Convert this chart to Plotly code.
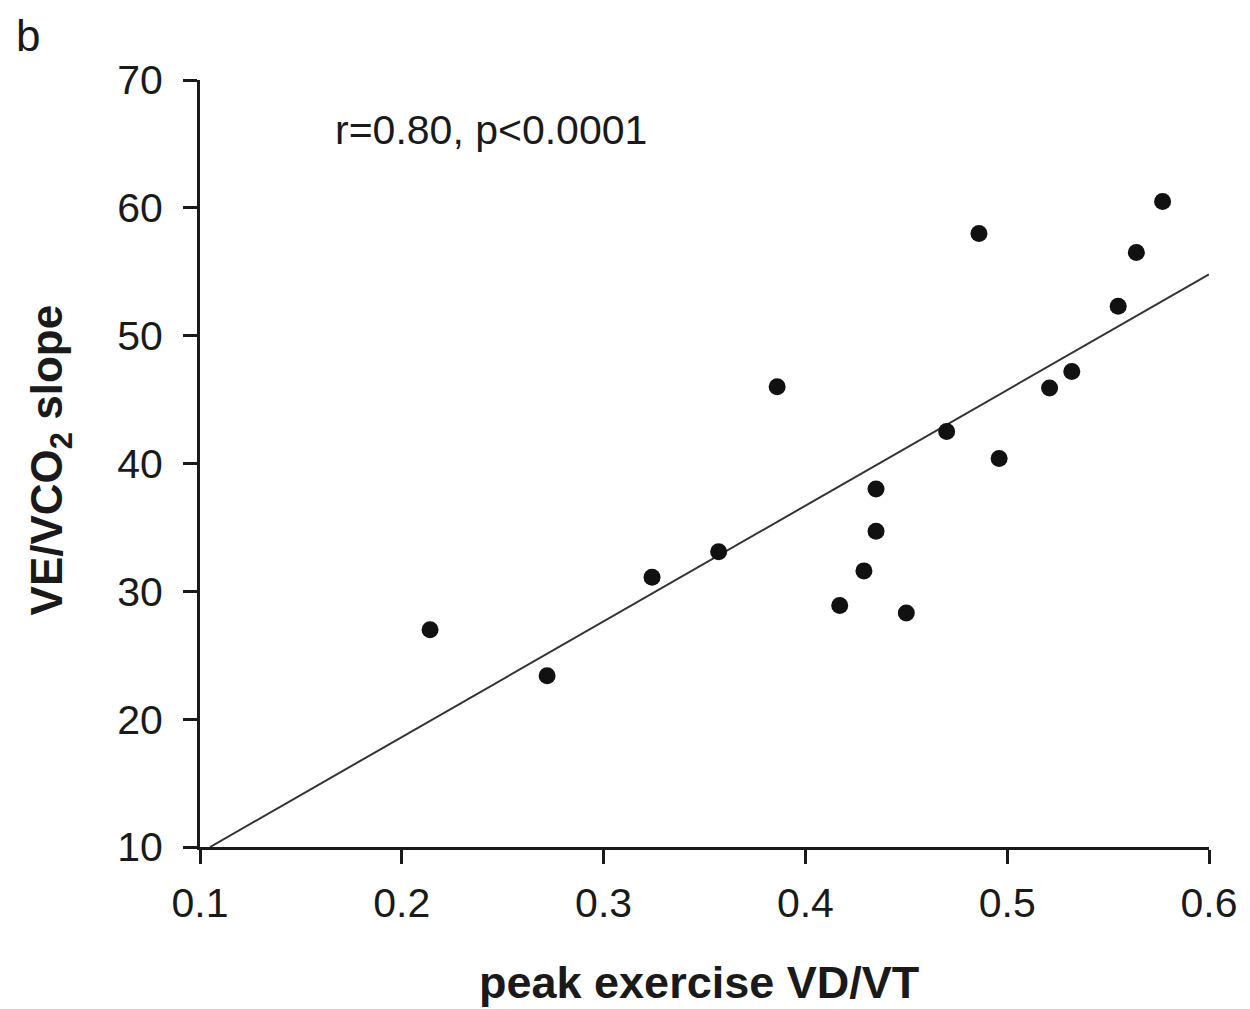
import plotly.graph_objects as go

# Data
vd_vt = [0.214, 0.272, 0.324, 0.357, 0.386, 0.417, 0.429, 0.435, 0.435, 0.450,
         0.470, 0.486, 0.496, 0.521, 0.532, 0.555, 0.564, 0.577]
ve_vco2 = [27.0, 23.4, 31.1, 33.1, 46.0, 28.9, 31.6, 34.7, 38.0, 28.3,
           42.5, 58.0, 40.4, 45.9, 47.2, 52.3, 56.5, 60.5]
fit_x = [0.105, 0.6]
fit_y = [10.0, 54.8]
x_ticks = [0.1, 0.2, 0.3, 0.4, 0.5, 0.6]
x_ticktext = ["0.1", "0.2", "0.3", "0.4", "0.5", "0.6"]
y_ticks = [10, 20, 30, 40, 50, 60, 70]

FONT = "Liberation Sans, Arial, sans-serif"

# page body has an 8px margin; the figure is sized to fit the window
OFF = 8
W, H = 1250 - OFF, 1009 - OFF
L, R, T, B = 200 - OFF, 38, 80 - OFF, 170 - OFF
pw = W - L - R
ph = H - T - B


def px(xp):
    return (xp - OFF - L) / pw


def py(yp):
    return (H - B - (yp - OFF)) / ph


fig = go.Figure()
fig.add_trace(go.Scatter(x=fit_x, y=fit_y, mode="lines",
                         line=dict(color="#333333", width=2), showlegend=False,
                         cliponaxis=False))
fig.add_trace(go.Scatter(x=vd_vt, y=ve_vco2, mode="markers",
                         marker=dict(color="#111111", size=17), showlegend=False))

fig.update_layout(
    width=W, height=H,
    margin=dict(l=L, r=R, t=T, b=B),
    paper_bgcolor="white", plot_bgcolor="white",
    font=dict(family=FONT, size=41, color="#1a1a1a"),
    xaxis=dict(range=[0.1, 0.6], tickvals=x_ticks, ticktext=x_ticktext,
               showgrid=False, zeroline=False, showline=True, linecolor="#1a1a1a",
               linewidth=3, ticks="outside", ticklen=14, tickwidth=3,
               tickcolor="#1a1a1a", ticklabelstandoff=4),
    yaxis=dict(range=[10, 70], tickvals=y_ticks,
               showgrid=False, zeroline=False, showline=True, linecolor="#1a1a1a",
               linewidth=3, ticks="outside", ticklen=14, tickwidth=3,
               tickcolor="#1a1a1a", ticklabelstandoff=12),
    annotations=[
        dict(text="r=0.80, p<0.0001", x=px(333), y=py(130), xref="paper", yref="paper",
             showarrow=False, xanchor="left", yanchor="middle",
             font=dict(family=FONT, size=41)),
        dict(text="b", x=px(13), y=py(36), xref="paper", yref="paper",
             xanchor="left", yanchor="middle", showarrow=False,
             font=dict(family=FONT, size=44)),
        dict(text="<b>peak exercise VD/VT</b>", x=px(700), y=py(982), xref="paper",
             yref="paper", xanchor="center", yanchor="middle", showarrow=False,
             font=dict(family=FONT, size=45)),
        dict(text="<b>VE/VCO<sub>2</sub> slope</b>", x=px(50), y=py(460),
             xref="paper", yref="paper", xanchor="center", yanchor="middle",
             textangle=-90, showarrow=False,
             font=dict(family=FONT, size=44)),
    ],
)

fig.write_html("out.html")
